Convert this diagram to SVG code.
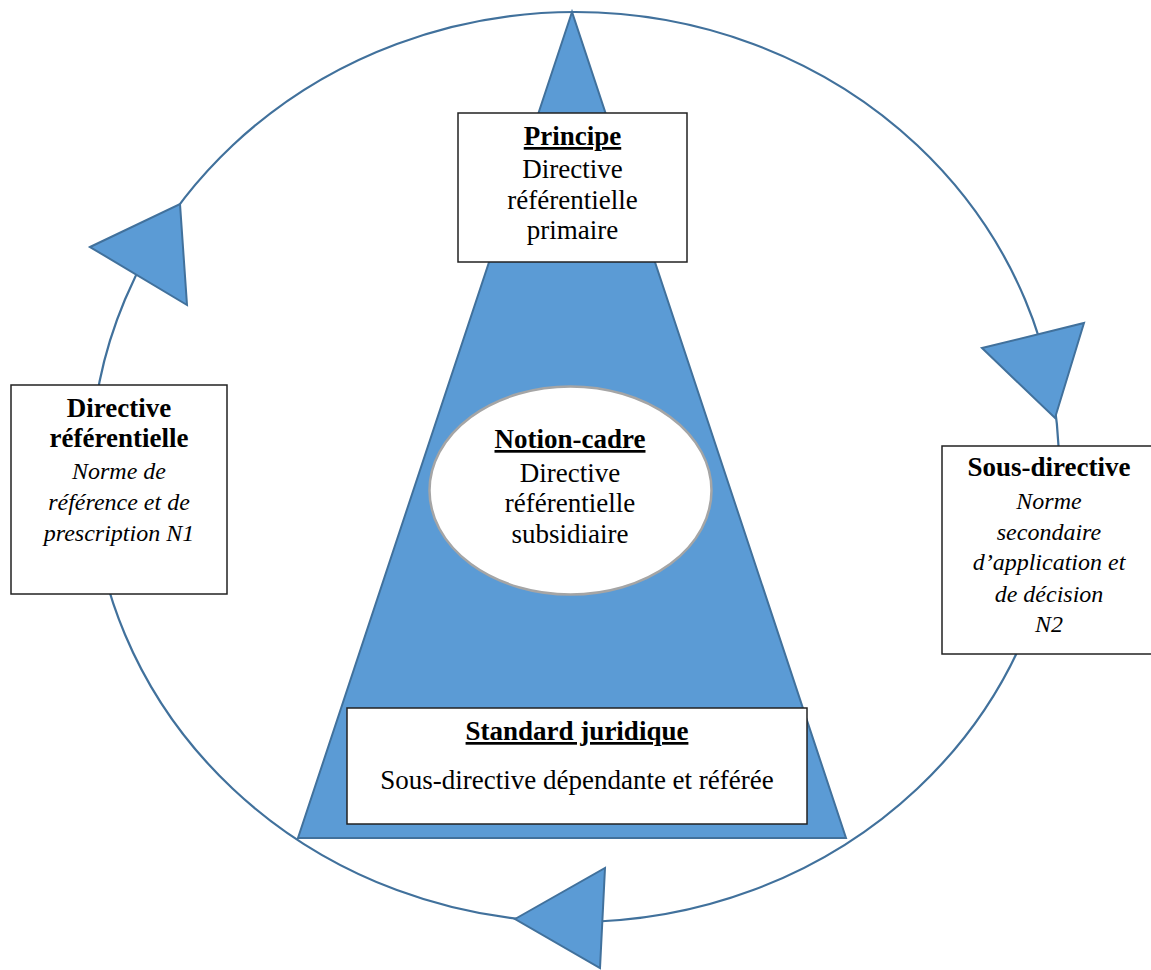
<svg xmlns="http://www.w3.org/2000/svg" width="1151" height="970" viewBox="0 0 1151 970">
<style>
.ring{fill:none;stroke:#41719C;stroke-width:2.2}
.tri{fill:#5B9BD5;stroke:#41719C;stroke-width:2}
.box{fill:#ffffff;stroke:#222;stroke-width:1.5}
.oval{fill:#ffffff;stroke:#A5A5A5;stroke-width:2.5}
text{font-family:"Liberation Serif","Times New Roman",serif;font-size:27px;fill:#000;text-anchor:middle}
.b{font-weight:bold}
.u{text-decoration:underline}
.i{font-style:italic;font-size:24px}
</style>
<rect width="1151" height="970" fill="#ffffff"/>
<g id="connectors">
<ellipse class="ring" cx="575" cy="467" rx="484" ry="455"/>
<polygon class="tri" points="90,247 180,204 187,305"/>
<polygon class="tri" points="982,348 1084,323 1055,418"/>
<polygon class="tri" points="515,919 605,868 600,968"/>
</g>
<g id="pyramid">
<polygon class="tri" points="572,12 298,838 846,838"/>
</g>
<g id="principe">
<rect class="box" x="458" y="113" width="229" height="149"/>
<text x="572.5" y="145" class="b u">Principe</text>
<text x="572.5" y="178">Directive</text>
<text x="572.5" y="209">référentielle</text>
<text x="572.5" y="239">primaire</text>
</g>
<g id="notion-cadre">
<ellipse class="oval" cx="570.5" cy="490.5" rx="141" ry="104"/>
<text x="570" y="448" class="b u">Notion-cadre</text>
<text x="570" y="482">Directive</text>
<text x="570" y="512">référentielle</text>
<text x="570" y="543">subsidiaire</text>
</g>
<g id="standard">
<rect class="box" x="347" y="708" width="460" height="116"/>
<text x="577" y="740" class="b u">Standard juridique</text>
<text x="577" y="789">Sous-directive dépendante et référée</text>
</g>
<g id="directive-ref">
<rect class="box" x="11" y="385" width="216" height="209"/>
<text x="119" y="417" class="b">Directive</text>
<text x="119" y="447" class="b">référentielle</text>
<text x="119" y="479" class="i">Norme de</text>
<text x="119" y="510" class="i">référence et de</text>
<text x="119" y="541" class="i">prescription N1</text>
</g>
<g id="sous-directive">
<rect class="box" x="942" y="446" width="212" height="208"/>
<text x="1049" y="476" class="b">Sous-directive</text>
<text x="1049" y="509" class="i">Norme</text>
<text x="1049" y="540" class="i">secondaire</text>
<text x="1049" y="570" class="i">d’application et</text>
<text x="1049" y="602" class="i">de décision</text>
<text x="1049" y="632" class="i">N2</text>
</g>
</svg>
